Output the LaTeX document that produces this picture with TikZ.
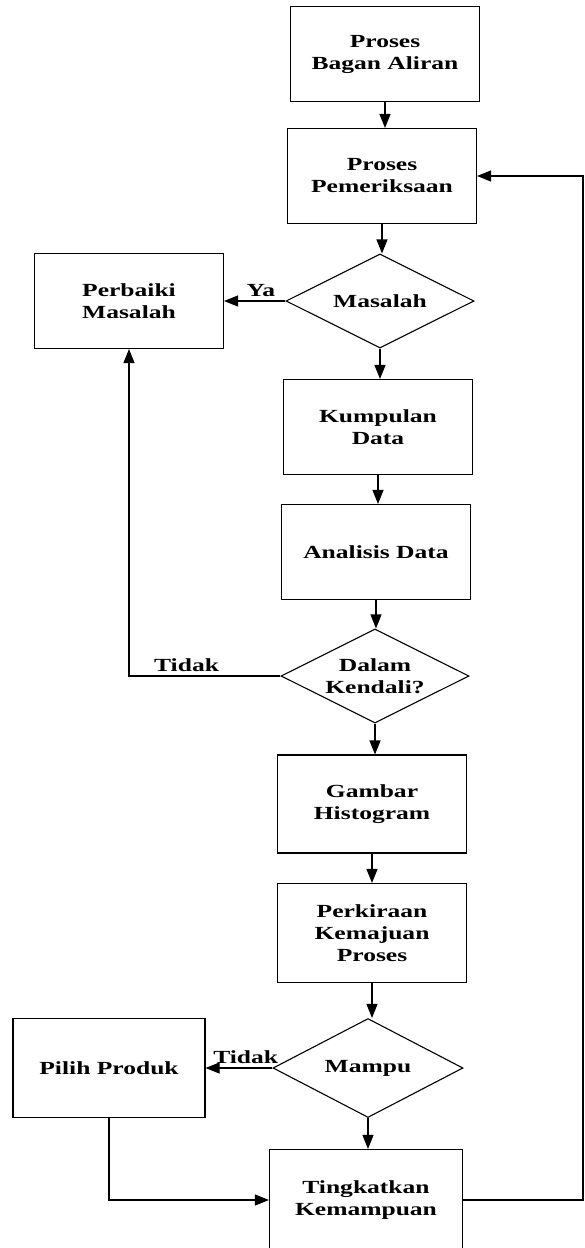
\documentclass[tikz,border=0pt]{standalone}
\usepackage{fontspec}
\setmainfont{Liberation Serif}[FakeStretch=1.38]
\usepackage{tikz}
\usetikzlibrary{shapes.geometric,arrows.meta,positioning}

\begin{document}
\begin{tikzpicture}[x=1pt,y=-1pt,on grid,line width=1.1pt,
    font=\bfseries\fontsize{18.5}{22}\selectfont,
    box/.style={draw,rectangle,minimum width=189pt,minimum height=95pt,align=center},
    dec/.style={draw,diamond,minimum width=188pt,minimum height=94pt,inner sep=0pt},
    arr/.style={-{Triangle[length=14pt,width=11pt]}}]
    \useasboundingbox (0,0) rectangle (585,1248);
    \clip (0,0) rectangle (585,1248);
                \node[box] (flow) at (385,54) {Proses\\Bagan Aliran};
                \node[box] (check) at (382,176) {Proses\\Pemeriksaan};
                \node[dec,label=center:Masalah] (problem) at (380,301) {};
                \node[box] (fix) [left=251pt of problem] {Perbaiki\\Masalah};
                \node[box] (collect) at (378,427) {Kumpulan\\Data};
                \node[box] (analyse) at (376,552) {Analisis Data};
                \node[dec,label={[align=center]center:Dalam\\Kendali?}] (control) at (375,676) {};
                \node[box,minimum height=98pt] (hist) at (372,804) {Gambar\\Histogram};
                \node[box,minimum height=99pt] (estimate) at (372,933) {Perkiraan\\Kemajuan\\Proses};
                \node[dec,minimum width=190pt,minimum height=99pt,label=center:Mampu] (capable) at (368,1068) {};
                \node[box,minimum width=192pt,minimum height=99pt] (choose) [left=259pt of capable] {Pilih Produk};
                \node[box,minimum width=193pt,minimum height=101pt] (improve) at (366,1200) {Tingkatkan\\Kemampuan};
                \coordinate (ret) at (583,176);
                \path[arr]
                (flow) edge (flow |- check.north)
                (check) edge (check |- problem.north)
                (problem) edge node[above,pos=0.4] {Ya} (fix)
                (problem) edge (problem |- collect.north)
                (collect) edge (collect |- analyse.north)
                (analyse) edge (analyse |- control.north)
                (control) edge (control |- hist.north)
                (hist) edge (hist |- estimate.north)
                (estimate) edge (estimate |- capable.north)
                (capable) edge node[above,pos=0.4] {Tidak} (choose)
                (capable) edge (capable |- improve.north);
                \draw[arr] (control) -| node[above,pos=0.31] {Tidak} (fix);
                \draw[arr] (choose) |- (improve);
                \draw[arr] (improve) -| (ret) -- (check);
            \end{tikzpicture}
\end{document}
